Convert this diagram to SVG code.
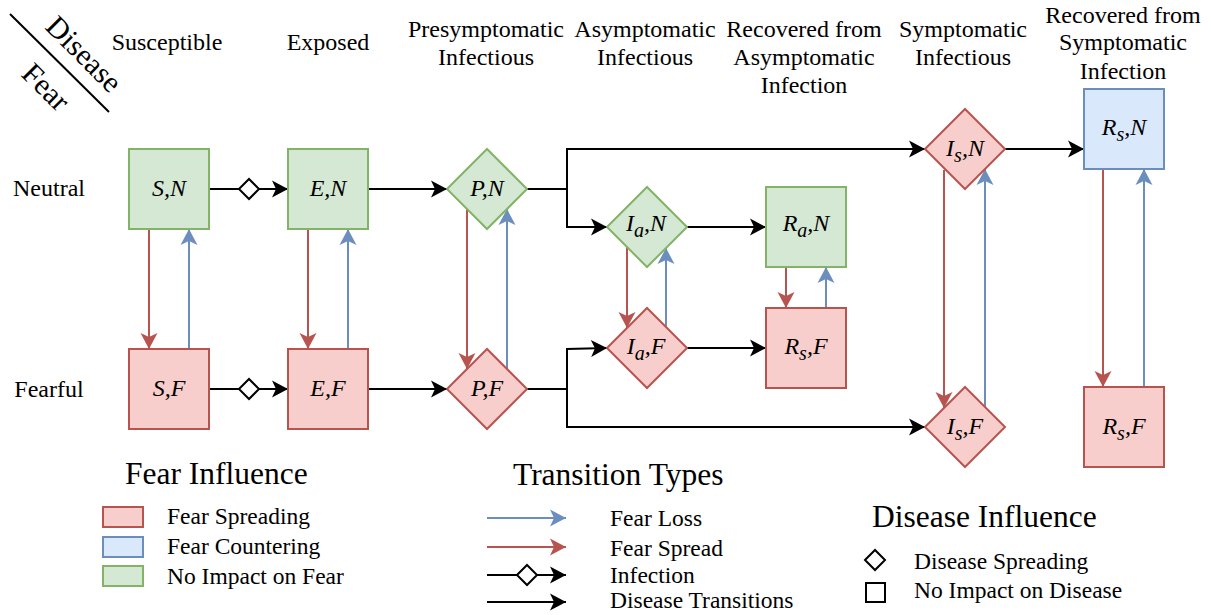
<svg xmlns="http://www.w3.org/2000/svg" width="1211" height="615" viewBox="0 0 1211 615">
<style>
text{font-family:"Liberation Serif","Times New Roman",serif;fill:#000}
.h{font-size:24px;text-anchor:middle}
.lbl{font-size:24px;font-style:italic;text-anchor:middle}
.sub{font-size:20px}
.lg{font-size:23.5px}
.title{font-size:31.5px}
.g{fill:#d5e8d4;stroke:#82b366;stroke-width:2}
.r{fill:#f8cecc;stroke:#b85450;stroke-width:2}
.b{fill:#dae8fc;stroke:#6c8ebf;stroke-width:2}
.k{fill:none;stroke:#000;stroke-width:2}
.kr{fill:none;stroke:#b85450;stroke-width:2}
.kb{fill:none;stroke:#6c8ebf;stroke-width:2}
.dm{fill:#fff;stroke:#000;stroke-width:2}
</style>
<defs>
<marker id="ak" markerUnits="userSpaceOnUse" markerWidth="20" markerHeight="20" viewBox="0 0 20 20" refX="17" refY="10" orient="auto"><path d="M1,1.5 L17,10 L1,18.5 L5,10 Z" fill="#000"/></marker>
<marker id="ar" markerUnits="userSpaceOnUse" markerWidth="20" markerHeight="20" viewBox="0 0 20 20" refX="17" refY="10" orient="auto"><path d="M1,1.5 L17,10 L1,18.5 L5,10 Z" fill="#b85450"/></marker>
<marker id="ab" markerUnits="userSpaceOnUse" markerWidth="20" markerHeight="20" viewBox="0 0 20 20" refX="17" refY="10" orient="auto"><path d="M1,1.5 L17,10 L1,18.5 L5,10 Z" fill="#6c8ebf"/></marker>
</defs>
<rect width="1211" height="615" fill="#fff"/>

<!-- corner header -->
<g id="corner">
<line x1="10" y1="14" x2="109" y2="112" stroke="#000" stroke-width="2"/>
<text font-size="30" text-anchor="middle" transform="translate(84,54) rotate(45)" y="10">Disease</text>
<text font-size="30" text-anchor="middle" transform="translate(46,87) rotate(45)" y="10">Fear</text>
</g>

<!-- column headers -->
<g id="headers">
<text class="h" x="167" y="50">Susceptible</text>
<text class="h" x="328" y="50">Exposed</text>
<text class="h" x="486" y="37">Presymptomatic</text>
<text class="h" x="486" y="65">Infectious</text>
<text class="h" x="645" y="37">Asymptomatic</text>
<text class="h" x="645" y="65">Infectious</text>
<text class="h" x="804" y="37">Recovered from</text>
<text class="h" x="804" y="65">Asymptomatic</text>
<text class="h" x="804" y="93">Infection</text>
<text class="h" x="963" y="37">Symptomatic</text>
<text class="h" x="963" y="65">Infectious</text>
<text class="h" x="1123" y="23">Recovered from</text>
<text class="h" x="1123" y="50">Symptomatic</text>
<text class="h" x="1123" y="79">Infection</text>
<text class="h" x="49" y="196">Neutral</text>
<text class="h" x="49" y="397">Fearful</text>
</g>

<!-- connectors -->
<g id="connectors">
<!-- infection -->
<path class="k" d="M209,189 H239 M259,189 H288" marker-end="url(#ak)"/>
<polygon class="dm" points="239,189 249,179 259,189 249,199"/>
<path class="k" d="M209,389 H239 M259,389 H288" marker-end="url(#ak)"/>
<polygon class="dm" points="239,389 249,379 259,389 249,399"/>
<!-- disease transitions -->
<path class="k" d="M368,189 H447" marker-end="url(#ak)"/>
<path class="k" d="M368,389 H447" marker-end="url(#ak)"/>
<path class="k" d="M527,189 H567 V149 H925" marker-end="url(#ak)"/>
<path class="k" d="M567,189 V227 H607" marker-end="url(#ak)"/>
<path class="k" d="M527,389 H567 V427 H925" marker-end="url(#ak)"/>
<path class="k" d="M567,389 V349 L607,348" marker-end="url(#ak)"/>
<path class="k" d="M687,227 H766" marker-end="url(#ak)"/>
<path class="k" d="M687,348 H766" marker-end="url(#ak)"/>
<path class="k" d="M1005,149 H1084" marker-end="url(#ak)"/>
<!-- fear spread (red) -->
<path class="kr" d="M149,229 V349" marker-end="url(#ar)"/>
<path class="kr" d="M308,229 V349" marker-end="url(#ar)"/>
<path class="kr" d="M467,209 V369" marker-end="url(#ar)"/>
<path class="kr" d="M627,247 V328" marker-end="url(#ar)"/>
<path class="kr" d="M786,267 V308" marker-end="url(#ar)"/>
<path class="kr" d="M944,170 V408" marker-end="url(#ar)"/>
<path class="kr" d="M1103,169 V387" marker-end="url(#ar)"/>
<!-- fear loss (blue) -->
<path class="kb" d="M189,349 V229" marker-end="url(#ab)"/>
<path class="kb" d="M348,349 V229" marker-end="url(#ab)"/>
<path class="kb" d="M507,369 V209" marker-end="url(#ab)"/>
<path class="kb" d="M666,327 V248" marker-end="url(#ab)"/>
<path class="kb" d="M826,308 V267" marker-end="url(#ab)"/>
<path class="kb" d="M985,407 V169" marker-end="url(#ab)"/>
<path class="kb" d="M1144,387 V169" marker-end="url(#ab)"/>
</g>

<!-- nodes -->
<g id="SN"><rect class="g" x="129" y="149" width="80" height="80"/><text class="lbl" x="169" y="196">S,N</text></g>
<g id="EN"><rect class="g" x="288" y="149" width="80" height="80"/><text class="lbl" x="328" y="196">E,N</text></g>
<g id="PN"><polygon class="g" points="447,189 487,149 527,189 487,229"/><text class="lbl" x="487" y="196">P,N</text></g>
<g id="SF"><rect class="r" x="129" y="349" width="80" height="80"/><text class="lbl" x="169" y="396">S,F</text></g>
<g id="EF"><rect class="r" x="288" y="349" width="80" height="80"/><text class="lbl" x="328" y="396">E,F</text></g>
<g id="PF"><polygon class="r" points="447,389 487,349 527,389 487,429"/><text class="lbl" x="487" y="396">P,F</text></g>
<g id="IaN"><polygon class="g" points="607,227 647,187 687,227 647,267"/><text class="lbl" x="646" y="231">I<tspan class="sub" dy="6">a</tspan><tspan dy="-6">,N</tspan></text></g>
<g id="RaN"><rect class="g" x="766" y="187" width="80" height="80"/><text class="lbl" x="806" y="231">R<tspan class="sub" dy="6">a</tspan><tspan dy="-6">,N</tspan></text></g>
<g id="IaF"><polygon class="r" points="607,348 647,308 687,348 647,388"/><text class="lbl" x="646" y="354">I<tspan class="sub" dy="6">a</tspan><tspan dy="-6">,F</tspan></text></g>
<g id="RsFmid"><rect class="r" x="766" y="308" width="80" height="80"/><text class="lbl" x="806" y="354">R<tspan class="sub" dy="6">s</tspan><tspan dy="-6">,F</tspan></text></g>
<g id="IsN"><polygon class="r" points="925,149 965,109 1005,149 965,189"/><text class="lbl" x="965" y="156">I<tspan class="sub" dy="6">s</tspan><tspan dy="-6">,N</tspan></text></g>
<g id="IsF"><polygon class="r" points="925,427 965,387 1005,427 965,467"/><text class="lbl" x="965" y="434">I<tspan class="sub" dy="6">s</tspan><tspan dy="-6">,F</tspan></text></g>
<g id="RsN"><rect class="b" x="1084" y="89" width="80" height="80"/><text class="lbl" x="1124" y="135">R<tspan class="sub" dy="6">s</tspan><tspan dy="-6">,N</tspan></text></g>
<g id="RsF"><rect class="r" x="1084" y="387" width="80" height="80"/><text class="lbl" x="1124" y="434">R<tspan class="sub" dy="6">s</tspan><tspan dy="-6">,F</tspan></text></g>

<!-- legend: fear influence -->
<g id="legend-fear">
<text class="title" x="125" y="484">Fear Influence</text>
<rect class="r" x="103" y="507" width="40" height="20"/>
<rect class="b" x="103" y="537" width="40" height="20"/>
<rect class="g" x="103" y="566" width="40" height="20"/>
<text class="lg" x="167" y="524">Fear Spreading</text>
<text class="lg" x="167" y="554">Fear Countering</text>
<text class="lg" x="167" y="584">No Impact on Fear</text>
</g>

<!-- legend: transition types -->
<g id="legend-transitions">
<text class="title" x="513" y="485">Transition Types</text>
<path class="kb" d="M487,518 H566" marker-end="url(#ab)"/>
<path class="kr" d="M487,547 H566" marker-end="url(#ar)"/>
<path class="k" d="M487,575 H517 M537,575 H566" marker-end="url(#ak)"/>
<polygon class="dm" points="517,575 527,565 537,575 527,585"/>
<path class="k" d="M487,602 H566" marker-end="url(#ak)"/>
<text class="lg" x="610" y="526">Fear Loss</text>
<text class="lg" x="610" y="556">Fear Spread</text>
<text class="lg" x="610" y="583">Infection</text>
<text class="lg" x="610" y="608">Disease Transitions</text>
</g>

<!-- legend: disease influence -->
<g id="legend-disease">
<text class="title" x="872" y="527">Disease Influence</text>
<polygon class="dm" points="865,560 875,550 885,560 875,570"/>
<rect class="dm" x="866" y="583" width="19" height="19"/>
<text class="lg" x="914" y="569">Disease Spreading</text>
<text class="lg" x="914" y="598">No Impact on Disease</text>
</g>
</svg>
